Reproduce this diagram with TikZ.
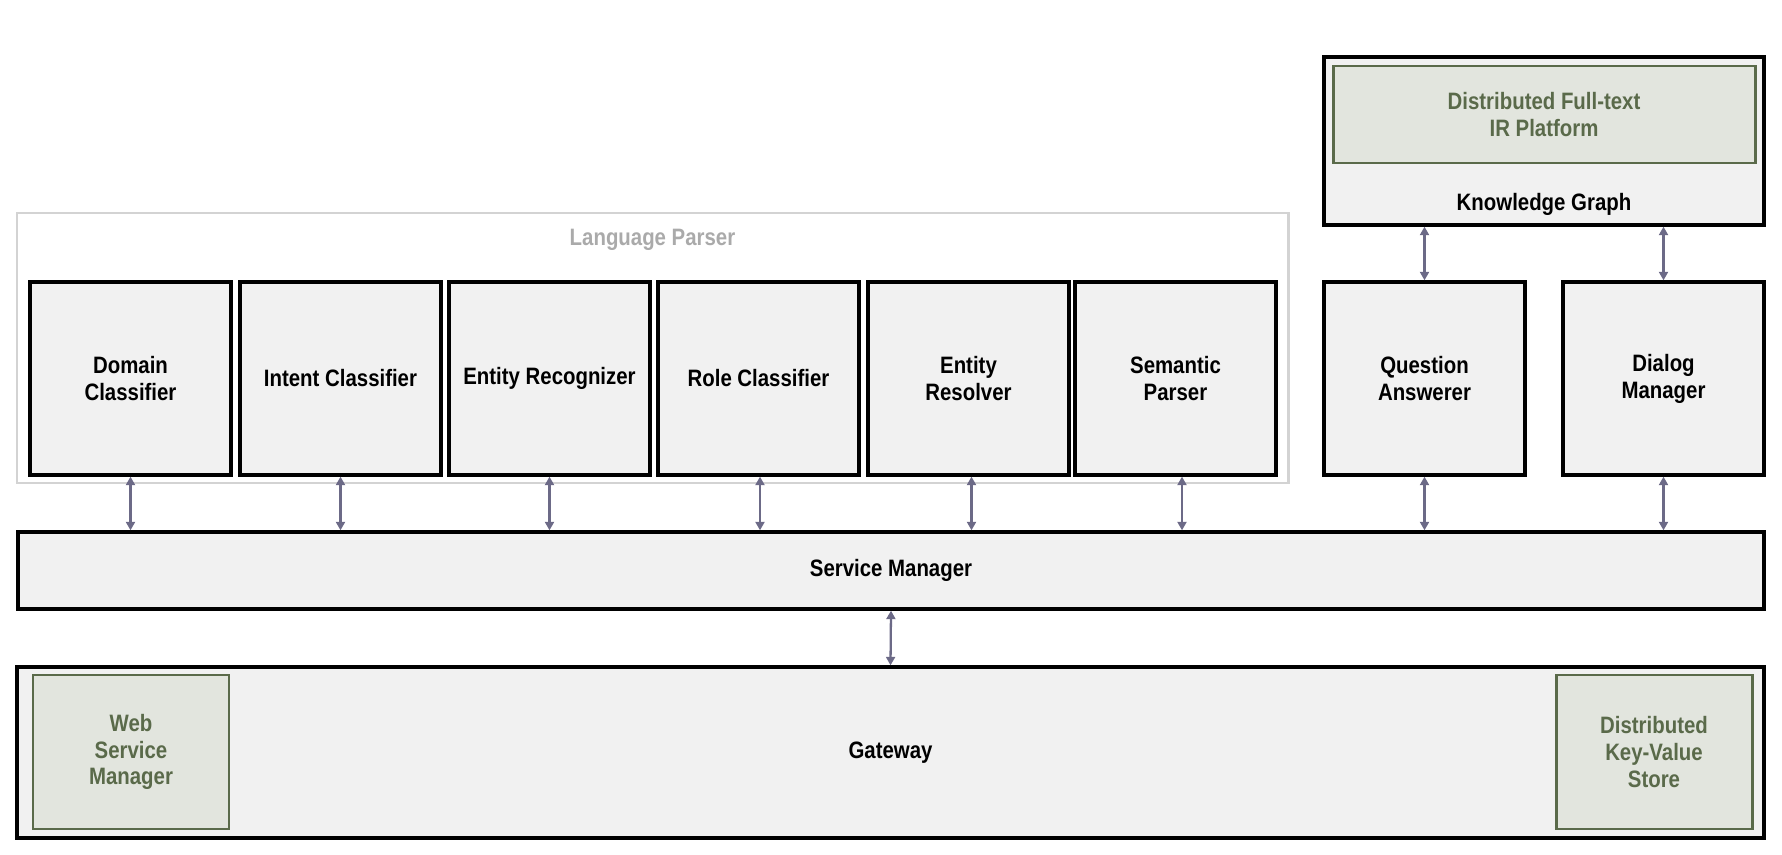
\documentclass[tikz,border=0pt]{standalone}
\usepackage{fontspec}
\setmainfont{Liberation Sans}[FakeStretch=0.86]
\usetikzlibrary{arrows.meta, positioning}
\definecolor{boxfill}{HTML}{F1F1F1}
\definecolor{storefill}{HTML}{E2E5DE}
\definecolor{storeline}{HTML}{5A6A4A}
\definecolor{linkcol}{HTML}{6C6A87}
\definecolor{groupline}{HTML}{D3D3D3}
\definecolor{grouptext}{HTML}{AAAAAA}

\tikzset{
    module/.style={draw, line width=1.9pt, fill=boxfill, minimum width=4.02cm, minimum height=3.86cm,
        align=center, font=\bfseries\fontsize{13.5}{15.3}\selectfont},
    store/.style={draw=storeline, line width=1.7pt, fill=storefill, text=storeline,
        align=center, font=\bfseries\fontsize{13.5}{15.3}\selectfont},
    link/.style={draw=linkcol, line width=1.3pt, {Triangle[length=0.17cm, width=0.18cm]}-{Triangle[length=0.17cm, width=0.18cm]}},
    title/.style={font=\bfseries\fontsize{13.5}{15.3}\selectfont}
}

\begin{document}
\begin{tikzpicture}
    \useasboundingbox (0,0) rectangle (35.64,17.08);
    % language parser group
    \node[draw=groupline, line width=1.7pt, minimum width=25.42cm, minimum height=5.4cm] (lp) at (13.05,10.12) {};
    \node[title, text=grouptext] (lplabel) at (13.05,12.28) {Language Parser};
    \node[module] (dc) at (2.61,9.51) {Domain\\Classifier};
    \node[module] (ic) at (6.81,9.51) {Intent Classifier};
    \node[module] (er) at (10.99,9.51) {Entity Recognizer};
    \node[module] (rc) at (15.17,9.51) {Role Classifier};
    \node[module] (es) at (19.37,9.51) {Entity\\Resolver};
    \node[module] (sp) at (23.51,9.51) {Semantic\\Parser};
    \node[module] (qa) at (28.49,9.51) {Question\\Answerer};
    \node[module] (dm) at (33.27,9.51) {Dialog\\Manager};

    % knowledge graph
    \node[module, minimum width=8.8cm, minimum height=3.36cm] (kg) at (30.88,14.26) {};
    \node[store, minimum width=8.44cm, minimum height=1.94cm] (ir) at (30.88,14.79) {Distributed Full-text\\IR Platform};
    \node[title] (kglabel) at (30.88,13.0) {Knowledge Graph};

    % service manager and gateway
    \node[module, minimum width=34.92cm, minimum height=1.54cm] (sm) at (17.82,5.67) {Service Manager};
    \node[module, minimum width=34.94cm, minimum height=3.42cm] (gw) at (17.81,2.03) {Gateway};
    \node[store, minimum width=3.92cm, minimum height=3.08cm] (ws) at (2.62,2.04) {Web\\Service\\Manager};
    \node[store, minimum width=3.92cm, minimum height=3.08cm] (kv) at (33.08,2.04) {Distributed\\Key-Value\\Store};

    \draw[link] (dc.south) -- (dc.south |- sm.north);
    \draw[link] (ic.south) -- (ic.south |- sm.north);
    \draw[link] (er.south) -- (er.south |- sm.north);
    \draw[link] ([xshift=0.03cm]rc.south) -- ([xshift=0.03cm]rc.south |- sm.north);
    \draw[link] ([xshift=0.06cm]es.south) -- ([xshift=0.06cm]es.south |- sm.north);
    \draw[link] ([xshift=0.13cm]sp.south) -- ([xshift=0.13cm]sp.south |- sm.north);
    \draw[link] (qa.south) -- (qa.south |- sm.north);
    \draw[link] (dm.south) -- (dm.south |- sm.north);
    \draw[link] (qa.north) -- (qa.north |- kg.south);
    \draw[link] (dm.north) -- (dm.north |- kg.south);
    \draw[link] (sm.south) -- (gw.north);
\end{tikzpicture}
\end{document}
